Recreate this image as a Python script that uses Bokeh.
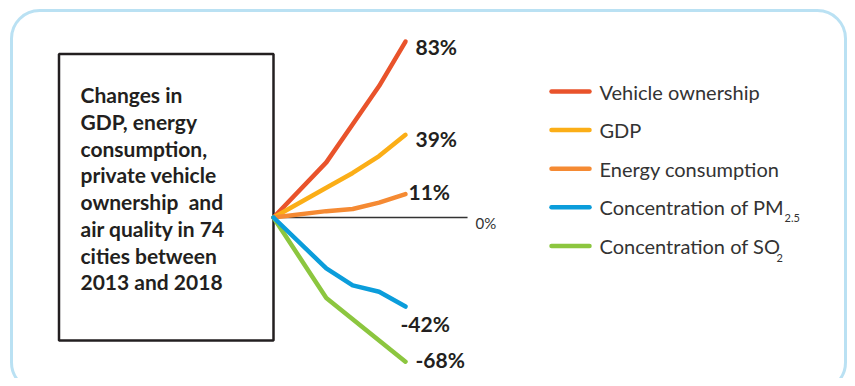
from bokeh.plotting import figure
from bokeh.models import Range1d, BoxAnnotation
from bokeh.embed import file_html
from bokeh.resources import INLINE
from bokeh.core.properties import value

# ---------------- data ----------------
years = [2013, 2015, 2016, 2017, 2018]
vehicle = [0, 26, 44, 62, 83]
gdp = [0, 14, 21, 29, 39]
energy = [0, 3, 4, 7, 11]
pm25 = [0, -24, -32, -35, -42]
so2 = [0, -38, -48, -58, -68]

series_names = ["Vehicle ownership", "GDP", "Energy consumption",
                "Concentration of PM", "Concentration of SO"]
series_subscripts = ["", "", "", "2.5", "2"]
end_labels = ["83%", "39%", "11%", "-42%", "-68%"]
zero_label = "0%"
title_lines = ["Changes in", "GDP, energy", "consumption,", "private vehicle",
               "ownership \u00a0and", "air quality in 74", "cities between",
               "2013 and 2018"]

# ---------------- styles / layout ----------------
colors = ["#e9532b", "#fbae17", "#f58a33", "#0b9ddb", "#8cc63f"]
W, H = 847, 378
PX_PER_YEAR = 26.4
X0_PX = 273          # pixel position of first year
PX_PER_PCT = 2.12
Y0_PX = 217          # pixel position of 0 %
AXIS_END = 2020.35   # end of the zero line (in years)
label_dx = [10, 10, 3, -5, 10]
label_dy = [4.5, 3.2, -2.2, 16.5, -2.2]
TXT = "#231f20"

p = figure(width=W, height=H, output_backend="svg", toolbar_location=None,
           x_range=Range1d(0, W), y_range=Range1d(H, 0),
           x_axis_location=None, y_axis_location=None,
           min_border=0, outline_line_color=None,
           background_fill_color="white", border_fill_color="white")
p.grid.visible = False

x_start = years[0] - X0_PX / PX_PER_YEAR
p.extra_x_ranges = {"yr": Range1d(x_start, x_start + W / PX_PER_YEAR)}
p.extra_y_ranges = {"pct": Range1d(-(H - Y0_PX) / PX_PER_PCT, Y0_PX / PX_PER_PCT)}

# outer rounded frame
p.add_layout(BoxAnnotation(left=11, right=845, top=10, bottom=390,
                           border_radius=28, fill_color=None, fill_alpha=0,
                           line_color="#1a9ad7", line_width=3, level="underlay"))

# title box
p.quad(left=[58.5], right=[273], top=[53.5], bottom=[340], fill_color=None,
       line_color=TXT, line_width=2.5)
p.text(x=[80] * len(title_lines), y=[94 + 26.75 * i for i in range(len(title_lines))],
       text=title_lines, text_font=value("Lato"), text_font_style="bold",
       text_font_size="21px", text_baseline="middle", text_color=TXT)

# zero line
p.segment(x0=[years[0]], y0=[0], x1=[AXIS_END], y1=[0], line_color="#333333",
          line_width=1.3, x_range_name="yr", y_range_name="pct")
p.text(x=[AXIS_END], y=[0], text=[zero_label], x_offset=8, y_offset=5,
       text_font=value("Lato"), text_font_size="15px", text_color="#333333",
       text_baseline="middle", x_range_name="yr", y_range_name="pct")

series = [vehicle, gdp, energy, pm25, so2]
order = [0, 1, 2, 4, 3]
for i in order:
    p.line(years, series[i], line_color=colors[i], line_width=4.5,
           line_cap="round", line_join="round",
           x_range_name="yr", y_range_name="pct")

for i in range(len(series)):
    p.text(x=[years[-1]], y=[series[i][-1]], text=[end_labels[i]],
           x_offset=label_dx[i], y_offset=label_dy[i],
           text_font=value("Lato"), text_font_style="bold", text_font_size="21px",
           text_color=TXT, text_baseline="middle",
           x_range_name="yr", y_range_name="pct")

# legend
LEG_Y0 = 91
LEG_DY = 38.6
SUB_X = {3: 784, 4: 776}
SUB_DY = {3: 11, 4: 12}
for i, name in enumerate(series_names):
    yc = LEG_Y0 + LEG_DY * i
    p.segment(x0=[551], y0=[yc], x1=[589], y1=[yc],
              line_color=colors[i], line_width=4.5, line_cap="round")
    p.text(x=[599], y=[yc], text=[name], text_font=value("Lato"),
           text_font_size="20px", text_color="#333333", text_baseline="middle")
    if series_subscripts[i]:
        p.text(x=[SUB_X[i]], y=[yc + SUB_DY[i]], text=[series_subscripts[i]],
               text_font=value("Lato"), text_font_size="11px", text_color="#333333",
               text_baseline="middle")

open("out.html", "w").write(file_html(p, INLINE))
